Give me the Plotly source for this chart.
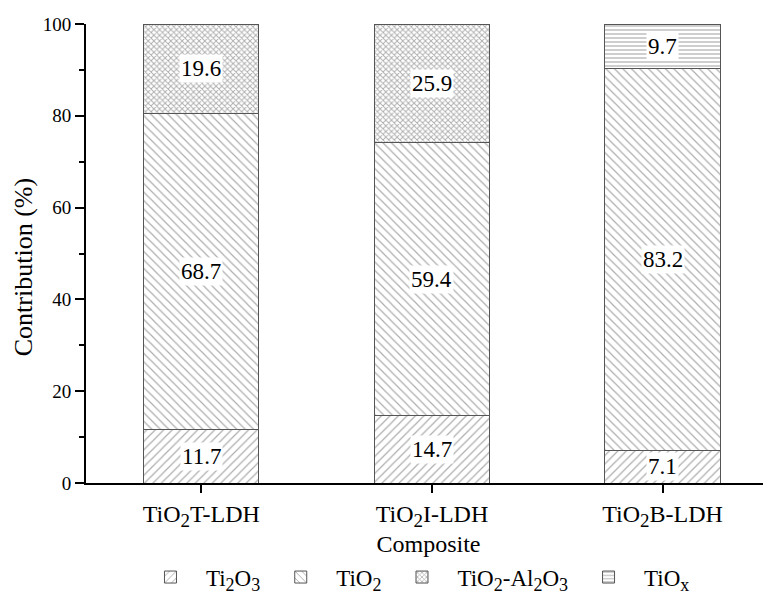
import plotly.graph_objects as go


def sub(t, px):
    return f"<sub><span style='font-size:{px}px'>{t}</span></sub>"


categories = [f"TiO{sub('2', 19)}T-LDH", f"TiO{sub('2', 19)}I-LDH", f"TiO{sub('2', 19)}B-LDH"]
series_names = [f"Ti{sub('2', 18)}O{sub('3', 18)}", f"TiO{sub('2', 18)}",
                f"TiO{sub('2', 18)}-Al{sub('2', 18)}O{sub('3', 18)}", f"TiO{sub('x', 18)}"]
ti2o3 = [11.7, 14.7, 7.1]
tio2 = [68.7, 59.4, 83.2]
tio2_al2o3 = [19.6, 25.9, None]
tiox = [None, None, 9.7]
y_ticks = [0, 20, 40, 60, 80, 100]

series_values = [ti2o3, tio2, tio2_al2o3, tiox]
patterns = [
    dict(shape="/", size=6, solidity=0.2),
    dict(shape="\\", size=6, solidity=0.2),
    dict(shape="x", size=4, solidity=0.42),
    dict(shape="-", size=4, solidity=0.3),
]

FONT = "Liberation Serif, Times New Roman, serif"

fig = go.Figure()
for name, vals, pat in zip(series_names, series_values, patterns):
    fig.add_trace(go.Bar(
        x=categories, y=vals, name=name, width=0.5,
        marker=dict(color="white",
                    line=dict(color="#555555", width=1),
                    pattern=dict(fgcolor="#5c5c5c", bgcolor="white", **pat)),
    ))

annotations = []
for i, cat in enumerate(categories):
    base = 0.0
    for vals in series_values:
        v = vals[i]
        if v is None:
            continue
        annotations.append(dict(
            x=cat, y=base + v / 2, xref="x", yref="y", text=f"{v:.1f}",
            showarrow=False, bgcolor="white", borderpad=1,
            font=dict(family=FONT, size=23, color="black"),
        ))
        base += v

# y-axis title placed as rotated text (slightly below the axis centre, as in the reference)
annotations.append(dict(
    text="Contribution (%)", xref="paper", yref="paper", x=-0.092, y=0.47,
    xanchor="center", yanchor="middle", textangle=-90, showarrow=False,
    font=dict(family=FONT, size=26, color="black"),
))

fig.update_layout(
    barmode="stack",
    width=763, height=588,
    margin=dict(l=78, r=0, t=16, b=113, autoexpand=False),
    paper_bgcolor="white", plot_bgcolor="white",
    font=dict(family=FONT, color="black", size=19),
    annotations=annotations,
    showlegend=True,
    legend=dict(orientation="h", x=0.0715, xanchor="left", y=-0.205, yanchor="middle",
                font=dict(family=FONT, size=23), traceorder="normal",
                itemwidth=61, bgcolor="rgba(0,0,0,0)"),
)
fig.update_xaxes(
    range=[-0.5, 2.47], showline=True, linecolor="black", linewidth=1.5,
    ticks="outside", ticklen=8, tickwidth=1.5, tickcolor="black",
    tickfont=dict(family=FONT, size=24), showgrid=False, zeroline=False,
    automargin=False,
    title=dict(text="Composite", font=dict(family=FONT, size=24), standoff=0),
)
fig.update_yaxes(
    range=[0, 100], tickvals=y_ticks, showline=True, linecolor="black", linewidth=2,
    ticks="outside", ticklen=9, tickwidth=1.5, tickcolor="black",
    minor=dict(dtick=10, ticks="outside", ticklen=5, tickwidth=1.5, tickcolor="black"),
    tickfont=dict(family=FONT, size=19), showgrid=False, zeroline=False,
    automargin=False,
)

fig.write_html("out.html")
